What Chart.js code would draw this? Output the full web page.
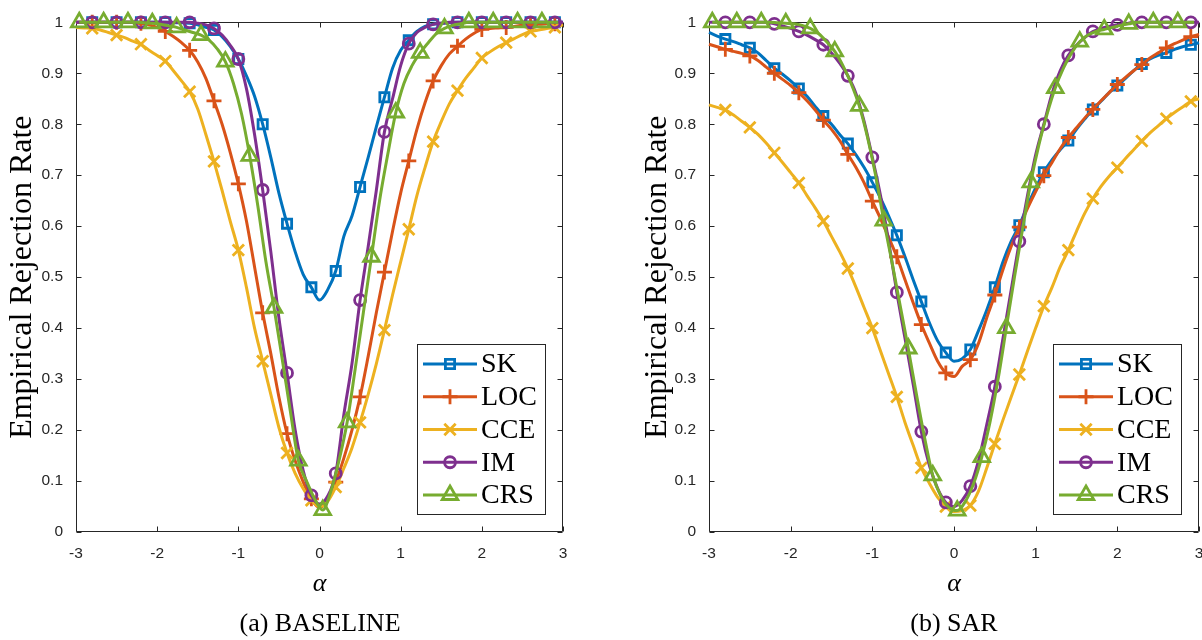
<!DOCTYPE html>
<html>
<head>
<meta charset="utf-8">
<style>
  html, body { margin: 0; padding: 0; background: #fff; overflow: hidden; width: 1202px; height: 640px; }
  #chartA { position: absolute; left: 0; top: 0; }
  #chartB { position: absolute; left: 635px; top: 0; }
</style>
<script src="https://cdn.jsdelivr.net/npm/chart.js"></script>
</head>
<body>
<canvas id="chartA" width="640" height="640"></canvas>
<canvas id="chartB" width="638" height="640"></canvas>
<script>
// ================= DATA =================
const seriesNames = ["SK", "LOC", "CCE", "IM", "CRS"];

// alpha grid used by SK, LOC, CCE, IM
const alpha = [
  -3.0, -2.9, -2.8, -2.7, -2.6, -2.5, -2.4, -2.3, -2.2, -2.1,
  -2.0, -1.9, -1.8, -1.7, -1.6, -1.5, -1.4, -1.3, -1.2, -1.1,
  -1.0, -0.9, -0.8, -0.7, -0.6, -0.5, -0.4, -0.3, -0.2, -0.1,
  0.0, 0.1, 0.2, 0.3, 0.4, 0.5, 0.6, 0.7, 0.8, 0.9,
  1.0, 1.1, 1.2, 1.3, 1.4, 1.5, 1.6, 1.7, 1.8, 1.9,
  2.0, 2.1, 2.2, 2.3, 2.4, 2.5, 2.6, 2.7, 2.8, 2.9,
  3.0
];
// CRS is sampled on a slightly shifted grid
const alphaCRS = [
  -2.96, -2.86, -2.76, -2.66, -2.56, -2.46, -2.36, -2.26, -2.16, -2.06,
  -1.96, -1.86, -1.76, -1.66, -1.56, -1.46, -1.36, -1.26, -1.16, -1.06,
  -0.96, -0.86, -0.76, -0.66, -0.56, -0.46, -0.36, -0.26, -0.16, -0.06,
  0.04, 0.14, 0.24, 0.34, 0.44, 0.54, 0.64, 0.74, 0.84, 0.94,
  1.04, 1.14, 1.24, 1.34, 1.44, 1.54, 1.64, 1.74, 1.84, 1.94,
  2.04, 2.14, 2.24, 2.34, 2.44, 2.54, 2.64, 2.74, 2.84, 2.94
];

// (a) BASELINE
const baseSK = [
  1, 1, 1, 1, 1, 1, 1, 1, 1, 1,
  1, 1, 0.999, 0.999, 0.998, 0.995, 0.99, 0.985, 0.972, 0.953,
  0.928, 0.895, 0.855, 0.80, 0.735, 0.665, 0.605, 0.55, 0.505, 0.48,
  0.455, 0.475, 0.512, 0.58, 0.62, 0.677, 0.735, 0.795, 0.853, 0.91,
  0.945, 0.965, 0.982, 0.992, 0.996, 0.998, 0.999, 1, 1, 1,
  1, 1, 1, 1, 1, 1, 1, 1, 1, 1,
  1
];
const baseLOC = [
  1, 1, 1, 1, 1, 1, 1, 1, 0.998, 0.995,
  0.99, 0.982, 0.972, 0.96, 0.945, 0.922, 0.89, 0.846, 0.80, 0.745,
  0.683, 0.61, 0.52, 0.43, 0.35, 0.265, 0.193, 0.14, 0.098, 0.065,
  0.048, 0.062, 0.098, 0.145, 0.2, 0.265, 0.345, 0.43, 0.51, 0.59,
  0.665, 0.728, 0.79, 0.842, 0.885, 0.915, 0.938, 0.953, 0.967, 0.978,
  0.986, 0.988, 0.989, 0.99, 0.992, 0.994, 0.995, 0.996, 0.997, 0.997,
  0.998
];
const baseCCE = [
  0.99, 0.989, 0.988, 0.985, 0.98, 0.975, 0.97, 0.963, 0.957, 0.945,
  0.935, 0.924, 0.905, 0.885, 0.864, 0.83, 0.78, 0.727, 0.67, 0.61,
  0.553, 0.48, 0.40, 0.335, 0.27, 0.205, 0.155, 0.115, 0.085, 0.062,
  0.05, 0.06, 0.088, 0.125, 0.165, 0.215, 0.27, 0.33, 0.396, 0.465,
  0.53, 0.594, 0.66, 0.715, 0.766, 0.805, 0.84, 0.866, 0.89, 0.91,
  0.93, 0.942, 0.952, 0.96, 0.968, 0.976, 0.982, 0.985, 0.988, 0.99,
  0.995
];
const baseIM = [
  1, 1, 1, 1, 1, 1, 1, 1, 1, 1,
  1, 1, 1, 1, 1, 0.998, 0.995, 0.988, 0.975, 0.955,
  0.928, 0.87, 0.78, 0.671, 0.55, 0.42, 0.312, 0.2, 0.12, 0.072,
  0.055, 0.07, 0.115, 0.23, 0.33, 0.455, 0.56, 0.67, 0.785, 0.85,
  0.915, 0.958, 0.98, 0.99, 0.996, 0.998, 1, 1, 1, 1,
  1, 1, 1, 1, 1, 1, 1, 1, 1, 1,
  1
];
const baseCRS = [
  1, 1, 1, 1, 1, 1, 1, 1, 0.999, 0.998,
  0.996, 0.993, 0.99, 0.985, 0.98, 0.975, 0.965, 0.948, 0.923, 0.88,
  0.82, 0.738, 0.64, 0.53, 0.44, 0.34, 0.238, 0.14, 0.1, 0.065,
  0.043, 0.08, 0.14, 0.215, 0.32, 0.43, 0.54, 0.65, 0.74, 0.823,
  0.88, 0.915, 0.94, 0.96, 0.978, 0.988, 0.994, 0.997, 1, 1,
  1, 1, 1, 1, 1, 1, 1, 1, 1, 1
];

// (b) SAR
const sarSK = [
  0.98, 0.973, 0.967, 0.962, 0.956, 0.95, 0.94, 0.925, 0.91, 0.898,
  0.885, 0.87, 0.855, 0.835, 0.816, 0.8, 0.78, 0.762, 0.74, 0.715,
  0.686, 0.655, 0.62, 0.582, 0.54, 0.495, 0.452, 0.41, 0.375, 0.352,
  0.335, 0.34, 0.358, 0.395, 0.435, 0.48, 0.53, 0.57, 0.602, 0.64,
  0.675, 0.706, 0.73, 0.75, 0.768, 0.79, 0.81, 0.829, 0.845, 0.862,
  0.876, 0.89, 0.905, 0.918, 0.928, 0.935, 0.94, 0.947, 0.952, 0.956,
  0.96
];
const sarLOC = [
  0.957, 0.952, 0.947, 0.943, 0.939, 0.934, 0.925, 0.912, 0.9, 0.888,
  0.876, 0.862, 0.846, 0.828, 0.808, 0.79, 0.768, 0.741, 0.715, 0.685,
  0.649, 0.615, 0.578, 0.54, 0.495, 0.45, 0.407, 0.37, 0.335, 0.312,
  0.305, 0.325, 0.338, 0.37, 0.42, 0.465, 0.515, 0.56, 0.598, 0.635,
  0.668, 0.699, 0.725, 0.752, 0.774, 0.793, 0.812, 0.829, 0.846, 0.862,
  0.878, 0.892, 0.905, 0.917, 0.93, 0.94, 0.95, 0.958, 0.965, 0.972,
  0.976
];
const sarCCE = [
  0.838, 0.833, 0.828, 0.818, 0.806, 0.794, 0.78, 0.763, 0.744, 0.725,
  0.705, 0.685, 0.66, 0.636, 0.61, 0.58, 0.55, 0.517, 0.48, 0.44,
  0.40, 0.355, 0.31, 0.265, 0.215, 0.17, 0.126, 0.095, 0.068, 0.05,
  0.04, 0.042, 0.052, 0.08, 0.125, 0.173, 0.22, 0.265, 0.309, 0.355,
  0.40, 0.443, 0.48, 0.52, 0.553, 0.59, 0.625, 0.654, 0.678, 0.698,
  0.715, 0.733, 0.75, 0.767, 0.783, 0.797, 0.811, 0.823, 0.834, 0.845,
  0.85
];
const sarIM = [
  1, 1, 1, 1, 1, 1, 1, 1, 0.997, 0.993,
  0.988, 0.982, 0.975, 0.966, 0.956, 0.94, 0.92, 0.895, 0.86, 0.805,
  0.735, 0.66, 0.57, 0.47, 0.38, 0.29, 0.197, 0.13, 0.085, 0.058,
  0.05, 0.062, 0.09, 0.14, 0.21, 0.285, 0.38, 0.475, 0.57, 0.66,
  0.74, 0.80, 0.86, 0.905, 0.935, 0.955, 0.97, 0.982, 0.988, 0.992,
  0.995, 0.997, 1, 1, 1, 1, 1, 1, 1, 1,
  1
];
const sarCRS = [
  1, 1, 1, 1, 1, 1, 1, 1, 0.999, 0.998,
  0.997, 0.994, 0.988, 0.978, 0.962, 0.943, 0.915, 0.88, 0.836, 0.775,
  0.70, 0.611, 0.53, 0.445, 0.36, 0.27, 0.185, 0.111, 0.07, 0.048,
  0.042, 0.06, 0.095, 0.147, 0.215, 0.3, 0.40, 0.5, 0.595, 0.686,
  0.76, 0.82, 0.871, 0.91, 0.94, 0.962, 0.975, 0.982, 0.986, 0.99,
  0.994, 0.997, 1, 1, 1, 1, 1, 1, 1, 1
];

// ticks
const xTicks = [-3, -2, -1, 0, 1, 2, 3];
const xTickLabels = ["-3", "-2", "-1", "0", "1", "2", "3"];
const yTicks = [0, 0.1, 0.2, 0.3, 0.4, 0.5, 0.6, 0.7, 0.8, 0.9, 1];
const yTickLabels = ["0", "0.1", "0.2", "0.3", "0.4", "0.5", "0.6", "0.7", "0.8", "0.9", "1"];

// ================= STYLE =================
const AXIS_COLOR = "#262626";
const colors = ["#0072BD", "#D95319", "#EDB120", "#7E2F8E", "#77AC30"];
const markers = [
  { style: "rect", r: 6.5 },
  { style: "cross", r: 7.5 },
  { style: "crossRot", r: 8 },
  { style: "circle", r: 5.5 },
  { style: "triangle", r: 9 }
];
// markers every 3rd sample, CRS on its own phase
const markerPhase = [2, 2, 2, 2, 0];

function makeDatasets(ys) {
  return ys.map((vals, i) => {
    const xs = i === 4 ? alphaCRS : alpha;
    return {
      label: seriesNames[i],
      data: xs.map((x, k) => ({ x: x, y: vals[k] })),
      borderColor: colors[i],
      backgroundColor: colors[i],
      borderWidth: 3,
      cubicInterpolationMode: "monotone",
      pointStyle: markers[i].style,
      pointRadius: (ctx) => (ctx.dataIndex % 3 === markerPhase[i] ? markers[i].r : 0),
      pointBorderWidth: 2.8,
      pointBorderColor: colors[i],
      pointBackgroundColor: "rgba(255,255,255,0)",
      clip: false,
      order: 5 - i
    };
  });
}

// ================= PLUGINS =================
// axes box with inward ticks (MATLAB look)
const framePlugin = {
  id: "frame",
  beforeDatasetsDraw(chart) {
    const { ctx, chartArea: a, scales } = chart;
    const L = Math.round(a.left) + 0.5, R = Math.round(a.right) - 0.5;
    const T = Math.round(a.top) + 0.5, B = Math.round(a.bottom) - 0.5;
    ctx.save();
    ctx.strokeStyle = AXIS_COLOR;
    ctx.lineWidth = 1;
    ctx.beginPath();
    ctx.rect(L, T, R - L, B - T);
    xTicks.forEach(v => {
      const px = Math.round(scales.x.getPixelForValue(v)) + 0.5;
      ctx.moveTo(px, B); ctx.lineTo(px, B - 5);
      ctx.moveTo(px, T); ctx.lineTo(px, T + 5);
    });
    yTicks.forEach(v => {
      const py = Math.round(scales.y.getPixelForValue(v)) + 0.5;
      ctx.moveTo(L, py); ctx.lineTo(L + 5, py);
      ctx.moveTo(R, py); ctx.lineTo(R - 5, py);
    });
    ctx.stroke();
    ctx.restore();
  }
};

function drawMarker(ctx, style, r, x, y) {
  ctx.beginPath();
  if (style === "rect") {
    const s = r * Math.SQRT1_2;
    ctx.rect(x - s, y - s, 2 * s, 2 * s);
  } else if (style === "circle") {
    ctx.arc(x, y, r, 0, Math.PI * 2);
  } else if (style === "triangle") {
    const a = 2 * Math.PI / 3;
    ctx.moveTo(x, y - r);
    ctx.lineTo(x + Math.sin(a) * r, y - Math.cos(a) * r);
    ctx.lineTo(x + Math.sin(2 * a) * r, y - Math.cos(2 * a) * r);
    ctx.closePath();
  } else if (style === "cross") {
    ctx.moveTo(x, y - r); ctx.lineTo(x, y + r);
    ctx.moveTo(x - r, y); ctx.lineTo(x + r, y);
  } else if (style === "crossRot") {
    const d = r * Math.SQRT1_2;
    ctx.moveTo(x - d, y - d); ctx.lineTo(x + d, y + d);
    ctx.moveTo(x - d, y + d); ctx.lineTo(x + d, y - d);
  }
  ctx.stroke();
}

// legend box inside the lower right corner
const legendPlugin = {
  id: "boxLegend",
  afterDraw(chart) {
    const { ctx, chartArea: a } = chart;
    const x0 = Math.round(a.right) - 146, x1 = Math.round(a.right) - 18;
    const y1 = Math.round(a.bottom) - 18, y0 = y1 - 170;
    ctx.save();
    ctx.fillStyle = "#fff";
    ctx.fillRect(x0, y0, x1 - x0, y1 - y0);
    ctx.strokeStyle = AXIS_COLOR;
    ctx.lineWidth = 1;
    ctx.strokeRect(x0 + 0.5, y0 + 0.5, x1 - x0, y1 - y0);
    chart.data.datasets.forEach((ds, i) => {
      const y = y0 + 20 + i * 32.75;
      ctx.strokeStyle = ds.borderColor;
      ctx.lineWidth = ds.borderWidth;
      ctx.beginPath();
      ctx.moveTo(x0 + 6, y);
      ctx.lineTo(x0 + 60, y);
      ctx.stroke();
      ctx.lineWidth = 2.8;
      drawMarker(ctx, markers[i].style, markers[i].r, x0 + 33, y);
      ctx.fillStyle = "#000";
      ctx.font = "28px 'Liberation Serif', 'Times New Roman', serif";
      ctx.textBaseline = "middle";
      ctx.textAlign = "left";
      ctx.fillText(ds.label, x0 + 64, y + 1);
    });
    ctx.restore();
  }
};

// ================= CHARTS =================
function makeChart(canvasId, ys, caption, leftWidth, rightWidth) {
  const ctx = document.getElementById(canvasId).getContext("2d");
  return new Chart(ctx, {
    type: "line",
    data: { datasets: makeDatasets(ys) },
    options: {
      responsive: false,
      animation: false,
      events: [],
      layout: { padding: { top: 19, left: 0, right: 0, bottom: 0 } },
      scales: {
        x: {
          type: "linear",
          min: -3,
          max: 3,
          grid: { display: false, drawTicks: false },
          border: { display: false },
          afterBuildTicks: (scale) => { scale.ticks = xTicks.map(v => ({ value: v })); },
          afterFit: (scale) => { scale.height = 71.8; },
          ticks: {
            autoSkip: false,
            maxRotation: 0,
            padding: 12,
            color: AXIS_COLOR,
            font: { family: "'Liberation Sans', Arial, sans-serif", size: 15.5 },
            callback: (value, index) => xTickLabels[index]
          },
          title: {
            display: true,
            text: "α",
            color: "#000",
            padding: { top: 0, bottom: 4 },
            font: { family: "'Liberation Serif', 'Times New Roman', serif", size: 26, style: "italic" }
          }
        },
        y: {
          type: "linear",
          position: "left",
          min: 0,
          max: 1,
          grid: { display: false, drawTicks: false },
          border: { display: false },
          afterBuildTicks: (scale) => { scale.ticks = yTicks.map(v => ({ value: v })); },
          afterFit: (scale) => { scale.width = leftWidth; },
          ticks: {
            autoSkip: false,
            padding: 13,
            color: AXIS_COLOR,
            font: { family: "'Liberation Sans', Arial, sans-serif", size: 15.5 },
            callback: (value, index) => yTickLabels[index]
          },
          title: {
            display: true,
            text: "Empirical Rejection Rate",
            color: "#000",
            padding: { top: 3, bottom: 0 },
            font: { family: "'Liberation Serif', 'Times New Roman', serif", size: 32 }
          }
        },
        yPad: {
          type: "linear",
          position: "right",
          display: true,
          grid: { display: false, drawTicks: false },
          border: { display: false },
          ticks: { display: false },
          afterFit: (scale) => { scale.width = rightWidth; }
        }
      },
      plugins: {
        legend: { display: false },
        tooltip: { enabled: false },
        title: {
          display: true,
          text: caption,
          position: "bottom",
          color: "#000",
          padding: { top: 5, bottom: 0 },
          font: { family: "'Liberation Serif', 'Times New Roman', serif", size: 26, weight: "normal" }
        }
      }
    },
    plugins: [framePlugin, legendPlugin]
  });
}

makeChart("chartA", [baseSK, baseLOC, baseCCE, baseIM, baseCRS], "(a) BASELINE", 76, 77);
makeChart("chartB", [sarSK, sarLOC, sarCCE, sarIM, sarCRS], "(b) SAR", 74, 74);
</script>
</body>
</html>
